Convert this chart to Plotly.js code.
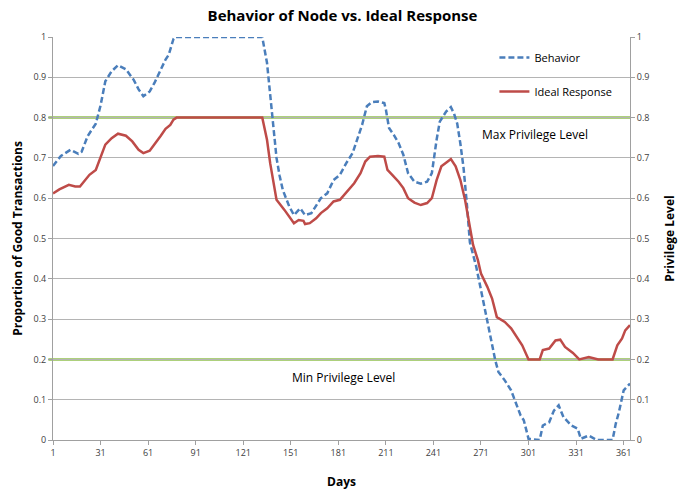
<!DOCTYPE html>
<html>
<head>
<meta charset="utf-8">
<script src="https://cdn.plot.ly/plotly-3.0.1.min.js"></script>
<style>html,body{margin:0;padding:0;background:#fff;}#chart{width:685px;height:494px;}</style>
</head>
<body>
<div id="chart"></div>
<script>
// Behavior of node (proportion of good transactions)
const behaviorDays = [1,6,12,17,19,23,28,31,34,38,42,47,52,55,58,62,65,69,72,74,77,78,133,136,138,140,142,144,146,150,153,157,160,164,170,174,178,182,186,190,193,196,199,202,206,210,211,213,216,219,222,225,229,233,237,240,243,245,249,252,254,256,258,260,262,264,268,271,274,277,280,282,286,290,293,296,298,301,308,310,314,317,320,323,328,332,334,339,344,354,356,358,361,365];
const behaviorValues = [0.68,0.705,0.72,0.71,0.715,0.755,0.785,0.83,0.89,0.915,0.93,0.92,0.893,0.87,0.853,0.865,0.886,0.92,0.944,0.956,0.995,1.0,1.0,0.936,0.853,0.77,0.70,0.655,0.62,0.58,0.558,0.575,0.558,0.563,0.60,0.612,0.645,0.658,0.687,0.712,0.745,0.782,0.828,0.838,0.84,0.836,0.82,0.774,0.757,0.737,0.708,0.662,0.641,0.636,0.641,0.662,0.745,0.79,0.815,0.826,0.81,0.785,0.735,0.675,0.59,0.49,0.43,0.372,0.305,0.248,0.198,0.169,0.148,0.123,0.094,0.061,0.049,0.003,0.0,0.036,0.044,0.073,0.086,0.057,0.036,0.028,0.003,0.011,0.0,0.0,0.04,0.069,0.123,0.14];

// Ideal response (privilege level)
const idealDays = [1,5,11,15,18,21,24,28,31,34,38,42,47,51,55,58,62,65,69,72,75,77,79,133,136,138,140,142,147,150,153,156,159,160,163,167,170,174,178,182,187,191,195,198,201,206,210,212,215,219,222,225,229,233,237,240,243,246,250,252,255,258,261,263,266,269,271,275,278,281,286,290,294,297,301,308,310,314,318,321,324,329,333,339,345,354,357,360,362,365];
const idealValues = [0.612,0.622,0.633,0.629,0.629,0.645,0.658,0.670,0.70,0.733,0.749,0.760,0.755,0.741,0.720,0.712,0.718,0.733,0.755,0.772,0.782,0.795,0.80,0.80,0.745,0.687,0.637,0.596,0.571,0.554,0.538,0.546,0.544,0.536,0.538,0.55,0.563,0.575,0.592,0.596,0.62,0.637,0.662,0.691,0.703,0.705,0.703,0.67,0.658,0.641,0.625,0.60,0.589,0.583,0.588,0.60,0.645,0.679,0.691,0.697,0.679,0.645,0.595,0.546,0.484,0.447,0.413,0.38,0.351,0.305,0.293,0.277,0.252,0.235,0.2,0.2,0.223,0.227,0.247,0.249,0.231,0.216,0.2,0.206,0.2,0.2,0.235,0.252,0.272,0.285];

const dayTicks = [1,31,61,91,121,151,181,211,241,271,301,331,361];
const maxLevel = 0.8;
const minLevel = 0.2;
const seriesNames = ["Behavior", "Ideal Response"];
const levelLabels = ["Max Privilege Level", "Min Privilege Level"];

const FONT = "Open Sans, Noto Sans, sans-serif";
const traces = [
  {x: behaviorDays, y: behaviorValues, name: seriesNames[0], type: "scatter", mode: "lines",
   line: {color: "#4a7ebb", width: 2.5, dash: "6px,3px"}, legendgroup: "a"},
  {x: idealDays, y: idealValues, name: seriesNames[1], type: "scatter", mode: "lines",
   line: {color: "#be4b48", width: 2.5}, legendgroup: "b"}
];

const yTicks = {tickmode: "linear", tick0: 0, dtick: 0.1, range: [0, 1]};
const layout = {
  width: 685, height: 494,
  margin: {l: 53, r: 55, t: 37, b: 54},
  paper_bgcolor: "#fff", plot_bgcolor: "#fff",
  font: {family: FONT, size: 10, color: "#404040"},
  title: {text: "<b>Behavior of Node vs. Ideal Response</b>", x: 0.5, xanchor: "center", y: 0.968, yanchor: "middle",
          font: {family: FONT, size: 15, color: "#000"}},
  xaxis: {range: [1, 365], tickmode: "array", tickvals: dayTicks, ticktext: dayTicks.map(String),
          showgrid: false, zeroline: false, showline: true, linecolor: "#a0a0a0", linewidth: 1,
          ticks: "outside", ticklen: 4, tickcolor: "#a0a0a0", tickfont: {size: 9, color: "#404040"},
          title: {text: "<b>Days</b>", standoff: 19, font: {family: FONT, size: 12, color: "#000"}}},
  yaxis: Object.assign({showgrid: true, gridcolor: "#b4b4b4", gridwidth: 1, zeroline: false,
          showline: true, linecolor: "#a0a0a0", ticks: "outside", ticklen: 4, tickcolor: "#a0a0a0",
          tickfont: {size: 9, color: "#404040"},
          title: {text: "<b>Proportion of Good Transactions</b>", standoff: 8, font: {family: FONT, size: 12, color: "#000"}}}, yTicks),
  yaxis2: Object.assign({overlaying: "y", side: "right", showgrid: false, zeroline: false,
          showline: true, linecolor: "#a0a0a0", ticks: "outside", ticklen: 4, tickcolor: "#a0a0a0",
          tickfont: {size: 9, color: "#404040"},
          title: {text: "<b>Privilege Level</b>", standoff: 17, font: {family: FONT, size: 12, color: "#000"}}}, yTicks),
  showlegend: true,
  legend: {x: 0.765, y: 0.985, xanchor: "left", yanchor: "top", bgcolor: "rgba(0,0,0,0)",
           traceorder: "grouped", tracegroupgap: 15, itemwidth: 30,
           font: {family: FONT, size: 11, color: "#000"}},
  shapes: [
    {type: "line", xref: "paper", yref: "y", x0: -0.008, x1: 1, y0: maxLevel, y1: maxLevel, line: {color: "#92c050", width: 2.5}, layer: "below"},
    {type: "line", xref: "paper", yref: "y", x0: -0.008, x1: 1, y0: minLevel, y1: minLevel, line: {color: "#92c050", width: 2.5}, layer: "below"}
  ],
  annotations: [
    {x: 305, y: 0.757, xref: "x", yref: "y", text: levelLabels[0], showarrow: false, font: {family: FONT, size: 12, color: "#000"}},
    {x: 184, y: 0.156, xref: "x", yref: "y", text: levelLabels[1], showarrow: false, font: {family: FONT, size: 12, color: "#000"}}
  ]
};
// invisible trace so the right-hand axis is drawn
traces.push({x: [1, 365], y: [0, 1], yaxis: "y2", mode: "lines", line: {width: 0}, showlegend: false, hoverinfo: "skip", opacity: 0});

Plotly.newPlot("chart", traces, layout, {displayModeBar: false, staticPlot: true});
</script>
</body>
</html>
